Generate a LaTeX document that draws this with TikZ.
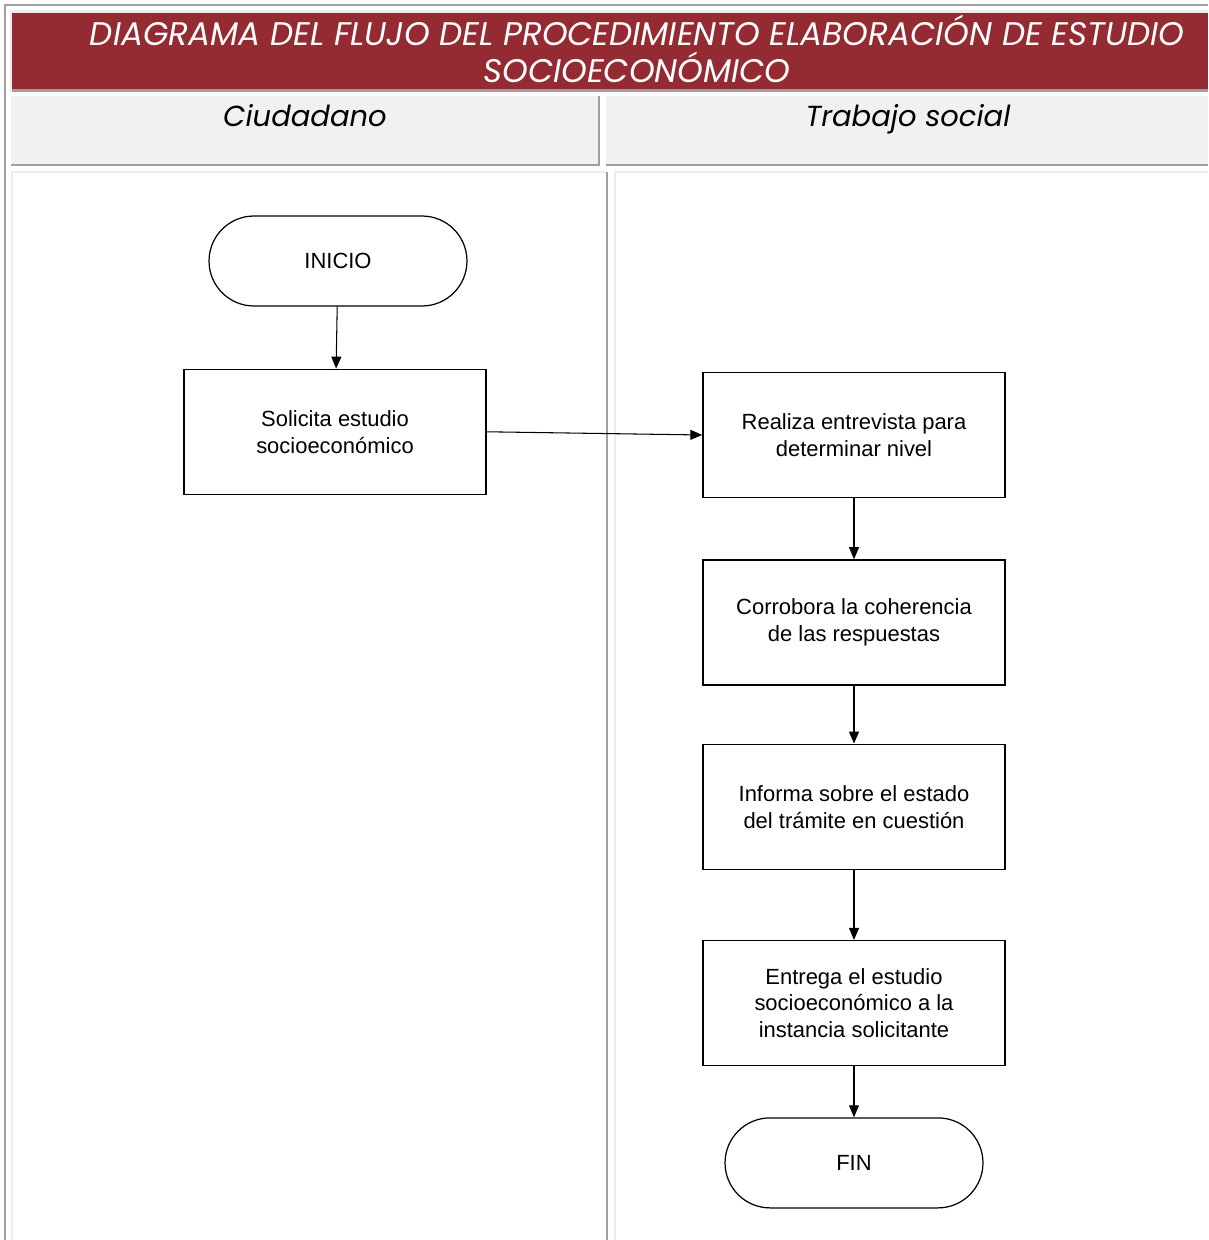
\documentclass[tikz,border=0pt]{standalone}
\usepackage{fontspec}
\setmainfont{Liberation Sans}
\newfontfamily\titlefont{Poppins}
\usetikzlibrary{arrows.meta, positioning}
\definecolor{bandred}{RGB}{148,42,50}
\definecolor{cellgray}{RGB}{241,241,241}
\definecolor{edgegray}{RGB}{160,160,160}
\definecolor{softedge}{RGB}{236,236,236}

\begin{document}
\begin{tikzpicture}[
    x=0.02cm, y=-0.02cm,
    every node/.style={font=\fontsize{12.5}{15.3}\selectfont},
    term/.style={draw, rounded corners=0.9cm, minimum width=5.16cm, minimum height=1.8cm, align=center, line width=0.7pt},
    proc/.style={draw, minimum width=6.04cm, minimum height=2.5cm, align=center, line width=0.8pt},
    hdr/.style={font=\titlefont\itshape\fontsize{16.5}{21}\selectfont, anchor=base},
    ttl/.style={font=\titlefont\itshape\fontsize{18.6}{21}\selectfont, align=center, text=white},
    ar/.style={-{Triangle[length=0.24cm, width=0.2cm]}, line width=0.6pt}
]
\useasboundingbox (0,0) rectangle (1208,1240);
% frame and swimlanes
\draw[edgegray, line width=1.4pt] (5,1240) -- (5,5) -- (1208,5);
\fill[softedge] (10,10) rectangle (1208,92);
\fill[bandred] (12,13) rectangle (1208,90);
\draw[edgegray, line width=1.2pt] (12,90.5) -- (1208,90.5);
\fill[cellgray] (11,96) rectangle (599,164);
\fill[cellgray] (606,96) rectangle (1208,164);
\draw[edgegray, line width=1.4pt] (11,165) -- (599,165) -- (599,96);
\draw[edgegray, line width=1.4pt] (606,165) -- (1208,165);
\draw[softedge, line width=1.4pt] (12,1240) -- (12,172) -- (606,172);
\draw[edgegray, line width=1.4pt] (607,172) -- (607,1240);
\draw[softedge, line width=1.4pt] (615,1240) -- (615,172) -- (1208,172);
\node[ttl] (title) at (637,49) {DIAGRAMA DEL FLUJO DEL PROCEDIMIENTO ELABORACIÓN DE ESTUDIO\\SOCIOECONÓMICO};
\node[hdr] (ciud) at (305,127) {Ciudadano};
\node[hdr] (trab) at (908,127) {Trabajo social};
% flow
\node[term] (ini) at (338,261) {INICIO};
\node[proc, below=1.24cm of ini, xshift=-0.06cm] (sol) {Solicita estudio\\socioeconómico};
\node[proc] (rea) at (854,435) {Realiza entrevista para\\determinar nivel};
\node[proc, below=1.22cm of rea] (cor) {Corrobora la coherencia\\de las respuestas};
\node[proc, below=1.16cm of cor] (inf) {Informa sobre el estado\\del trámite en cuestión};
\node[proc, below=1.40cm of inf] (ent) {Entrega el estudio\\socioeconómico a la\\instancia solicitante};
\node[term, below=1.02cm of ent] (fin) {FIN};
\draw[ar] (ini) -- (sol);
\draw[ar] (sol.east) -- (rea.west);
\draw[ar] (rea) -- (cor);
\draw[ar] (cor) -- (inf);
\draw[ar] (inf) -- (ent);
\draw[ar] (ent) -- (fin);
\end{tikzpicture}
\end{document}
